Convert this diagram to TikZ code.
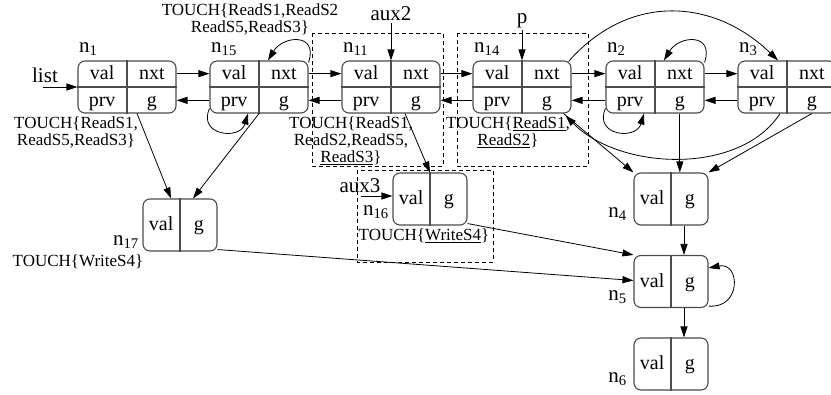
\documentclass[tikz,border=0pt]{standalone}
\usepackage{fontspec}
\setmainfont{Liberation Serif}
\usetikzlibrary{arrows.meta,positioning,calc}

\begin{document}
\begin{tikzpicture}[x=1pt,y=-1pt,>={Triangle[length=11pt,width=7pt]}]
% STYLES
\tikzset{%
    rec/.style={%
        draw=black!70, line width=1.1pt, rounded corners=7pt,
        minimum width=98pt, minimum height=52pt, inner sep=0pt
    },
    rectwo/.style={rec, minimum width=74pt},
    divider/.style={draw=black!70, line width=1.1pt},
    cell/.style={%
        inner sep=0pt, minimum width=49pt, minimum height=26pt,
        text height=14pt, text depth=2pt, font=\fontsize{20}{22}\selectfont
    },
    celltwo/.style={cell, minimum width=37pt, minimum height=52pt},
    idlabel/.style={inner sep=1.5pt, font=\fontsize{21}{22}\selectfont},
    touch/.style={inner sep=0pt, align=center, font=\fontsize{17}{17}\selectfont},
    link/.style={->, line width=0.8pt},
    grpbox/.style={line width=0.8pt, dash pattern=on 4pt off 3pt}
}
\useasboundingbox (0,0) rectangle (831,395);
% Draw the list records
\foreach \id/\x in {1/127,15/259,11/391,14/522,2/655,3/787}{
    \node [rec] (n\id) at (\x,87) {};
    \node [cell, anchor=north west] (n\id-v) at (n\id.north west) {val};
    \node [cell, anchor=north east] (n\id-n) at (n\id.north east) {nxt};
    \node [cell, anchor=south west] (n\id-p) at (n\id.south west) {prv};
    \node [cell, anchor=south east] (n\id-g) at (n\id.south east) {g};
    \draw [divider] (n\id.north) -- (n\id.south) (n\id.west) -- (n\id.east);
    \node [idlabel, anchor=base west] (n\id-name) at ([yshift=8pt]n\id.north west) {n\textsubscript{\id}};
}
% Draw the value records
\foreach \id/\x/\y/\dx/\dy in {17/180/225/-2/6,16/430/199/-2/10,4/671/199/-5/8,5/671/281.5/-5/8,6/671/364/-5/8}{
    \node [rectwo] (n\id) at (\x,\y) {};
    \node [celltwo, anchor=west] (n\id-v) at (n\id.west) {val};
    \node [celltwo, anchor=east] (n\id-g) at (n\id.east) {g};
    \draw [divider] (n\id.north) -- (n\id.south);
    \node [idlabel, anchor=base east] (n\id-name) at ([xshift=\dx pt,yshift=\dy pt]n\id.south west) {n\textsubscript{\id}};
}
% Pointer variables
\node [idlabel] (list) at (45,75) {list};
\coordinate (list-in) at (43,87);
\node [idlabel] (aux2) at (391,14) {aux2};
\node [idlabel] (p) at (522,21) {p};
\node [idlabel] (aux3) at (360,186) {aux3};
\coordinate (aux3-in) at (361,196);
% Touch sets
\node [touch, anchor=north] (t1) at (76,117) {TOUCH\{ReadS1,\\ReadS5,ReadS3\}};
\node [touch, anchor=north] (t15) at (250,4) {TOUCH\{ReadS1,ReadS2\\ReadS5,ReadS3\}};
\node [touch, anchor=north] (t11) at (351,117) {TOUCH\{ReadS1,\\ReadS2,ReadS5,\\\underline{ReadS3}\}};
\node [touch, anchor=north] (t14) at (508,117) {TOUCH\{\underline{ReadS1},\\\underline{ReadS2}\}};
\node [touch, anchor=north] (t16) at (424,229) {TOUCH\{\underline{WriteS4}\}};
\node [touch, anchor=north] (t17) at (78,255) {TOUCH\{WriteS4\}};
% Dashed regions
\draw [grpbox] (312,33) rectangle (443,166);
\draw [grpbox] (457,33) rectangle (588,166);
\draw [grpbox] (357,170) rectangle (493,262);
% Draw the links
\draw [link] (list-in) -- (n1.west);
\draw [link] (aux2) -- (n11.north);
\draw [link] (p) -- (n14.north);
\draw [link] (aux3-in) -- ([yshift=3pt]n16.west);
\foreach \a/\b in {1/15,15/11,11/14,14/2,2/3}{
    \draw [link] (n\a-n.east) -- (n\b-v.west);
    \draw [link] (n\b-p.west) -- (n\a-g.east);
}
\foreach \id in {15,2}{
    \draw [link] ([yshift=-2pt]n\id.north east) .. controls +(10,-30) and +(15,-25) .. ([xshift=9pt]n\id.north);
    \draw [link] ([yshift=5pt]n\id.south west) .. controls +(-12,27) and +(-8,27) .. ([xshift=-11pt]n\id.south);
}
\draw [link] ([xshift=-3pt,yshift=-1pt]n14.north east) .. controls +(62,-70) and +(-63,-61) .. ([xshift=-9pt]n3.north);
\draw [link] ([xshift=-7pt]n3.south) .. controls +(-40,62) and +(54,55) .. ([xshift=-6pt,yshift=-2pt]n14.south east);
\draw [link] ([xshift=10pt]n1.south) -- ([xshift=-9pt]n17.north);
\draw [link] (n15.south) -- ([xshift=13pt]n17.north);
\draw [link] ([xshift=14pt]n11.south) -- (n16.north);
\draw [link] ([xshift=-8pt]n14.south east) -- (n4.north west);
\draw [link] (n2-g.south) -- (n2-g.south |- n4.north);
\draw [link] (n3-g.south) -- (n4.north east);
\draw [link] ([xshift=13pt]n4.south) -- ([xshift=13pt]n5.north);
\draw [link] ([xshift=13pt]n5.south) -- ([xshift=13pt]n6.north);
\draw [link] ([yshift=2pt]n16.south east) -- (n5.north west);
\draw [link] ([yshift=2pt]n17.south east) -- ([yshift=1pt]n5.west);
\draw [link] ([yshift=2pt]n5.south east) .. controls +(33,3) and +(32,-6) .. ([yshift=-13pt]n5.north east);
\end{tikzpicture}
\end{document}
